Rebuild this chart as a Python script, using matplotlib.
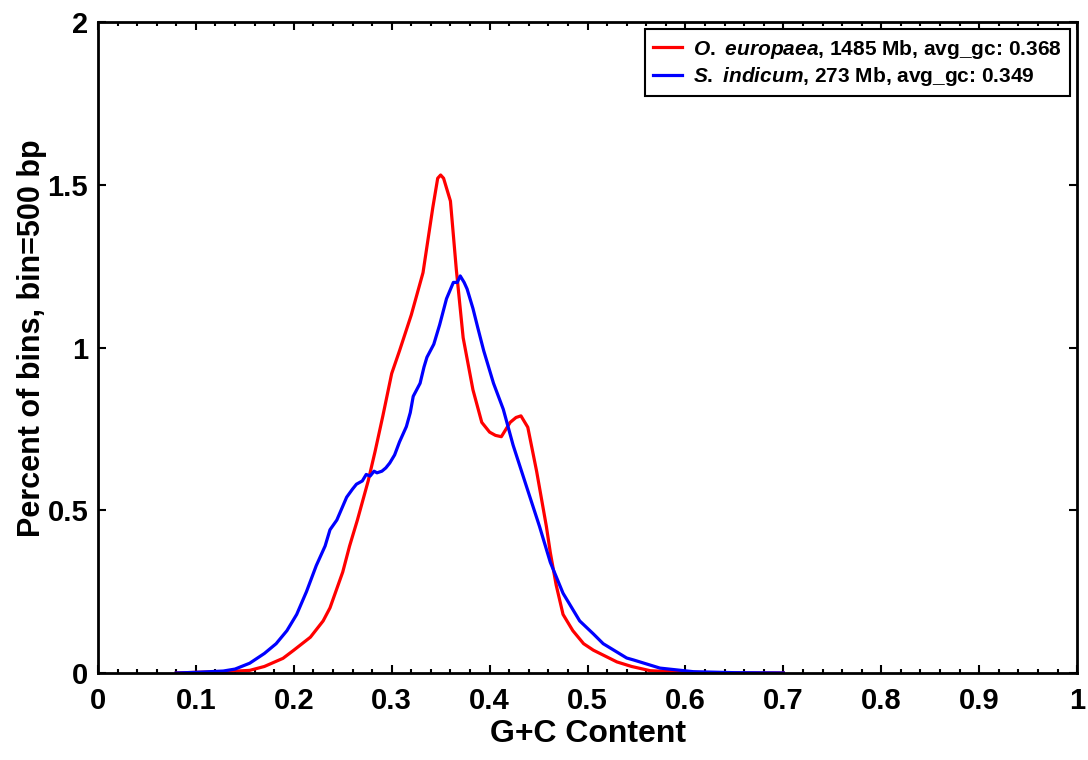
import matplotlib
matplotlib.use("Agg")
import matplotlib.pyplot as plt
from matplotlib.ticker import MultipleLocator

plt.rcParams.update({
    'font.family': ['Liberation Sans', 'DejaVu Sans'],
    'font.weight': 'bold',
    'mathtext.fontset': 'custom',
    'mathtext.it': 'Liberation Sans:italic:bold',
    'mathtext.rm': 'Liberation Sans:bold',
    'mathtext.bf': 'Liberation Sans:bold',
})

# O. europaea (red)
gc_oe = [0.08, 0.10, 0.13, 0.155, 0.17, 0.189, 0.20, 0.217, 0.23, 0.237, 0.25, 0.257,
         0.265, 0.276, 0.283, 0.291, 0.300, 0.308, 0.320, 0.332, 0.342, 0.347, 0.350,
         0.353, 0.360, 0.366, 0.373, 0.383, 0.392, 0.400, 0.406, 0.412, 0.421, 0.427,
         0.432, 0.439, 0.448, 0.458, 0.462, 0.468, 0.475, 0.485, 0.496, 0.506, 0.530,
         0.545, 0.564, 0.600, 0.650, 0.700]
pct_oe = [0.0, 0.002, 0.004, 0.008, 0.02, 0.045, 0.07, 0.11, 0.16, 0.20, 0.31, 0.39,
          0.47, 0.59, 0.68, 0.79, 0.92, 0.99, 1.10, 1.23, 1.43, 1.52, 1.53,
          1.52, 1.45, 1.24, 1.03, 0.87, 0.77, 0.74, 0.73, 0.726, 0.77, 0.785,
          0.79, 0.755, 0.62, 0.45, 0.37, 0.27, 0.18, 0.13, 0.09, 0.07, 0.034,
          0.02, 0.007, 0.002, 0.0, 0.0]

# S. indicum (blue)
gc_si = [0.08, 0.10, 0.128, 0.14, 0.155, 0.17, 0.182, 0.193, 0.203, 0.213, 0.223, 0.232,
         0.237, 0.244, 0.254, 0.260, 0.264, 0.270, 0.274, 0.278, 0.282, 0.285, 0.290,
         0.294, 0.298, 0.303, 0.308, 0.315, 0.319, 0.322, 0.329, 0.333, 0.336, 0.343,
         0.349, 0.356, 0.363, 0.367, 0.370, 0.374, 0.377, 0.383, 0.388, 0.394, 0.404,
         0.414, 0.424, 0.438, 0.451, 0.462, 0.475, 0.492, 0.506, 0.516, 0.540, 0.547,
         0.574, 0.608, 0.650, 0.700]
pct_si = [0.0, 0.002, 0.006, 0.012, 0.03, 0.06, 0.09, 0.13, 0.18, 0.25, 0.33, 0.39,
          0.44, 0.47, 0.54, 0.565, 0.58, 0.59, 0.61, 0.605, 0.62, 0.615, 0.62,
          0.63, 0.645, 0.67, 0.71, 0.757, 0.80, 0.85, 0.89, 0.94, 0.97, 1.01,
          1.07, 1.15, 1.20, 1.20, 1.22, 1.20, 1.18, 1.12, 1.06, 0.99, 0.89,
          0.81, 0.70, 0.57, 0.45, 0.34, 0.245, 0.16, 0.12, 0.09, 0.046, 0.04,
          0.015, 0.004, 0.001, 0.0]

labels = [r'$\mathit{O.\ europaea}$, 1485 Mb, avg_gc: 0.368',
          r'$\mathit{S.\ indicum}$, 273 Mb, avg_gc: 0.349']
xticks = [0, 0.1, 0.2, 0.3, 0.4, 0.5, 0.6, 0.7, 0.8, 0.9, 1]
xtick_labels = ['0', '0.1', '0.2', '0.3', '0.4', '0.5', '0.6', '0.7', '0.8', '0.9', '1']
yticks = [0, 0.5, 1, 1.5, 2]
ytick_labels = ['0', '0.5', '1', '1.5', '2']

fig = plt.figure(figsize=(10.88, 7.6), dpi=100)
ax = fig.add_axes([0.090, 0.1145, 0.900, 0.8565])

ax.plot(gc_oe, pct_oe, color='#ff0000', linewidth=2.3, label=labels[0])
ax.plot(gc_si, pct_si, color='#0000ff', linewidth=2.3, label=labels[1])

ax.set_xlim(0, 1)
ax.set_ylim(0, 2)
ax.set_xticks(xticks)
ax.set_xticklabels(xtick_labels)
ax.set_yticks(yticks)
ax.set_yticklabels(ytick_labels)
ax.xaxis.set_minor_locator(MultipleLocator(0.02))

ax.tick_params(which='both', direction='in', top=True, right=True, labelsize=21, width=1.5)
ax.tick_params(which='major', length=6)
ax.tick_params(which='minor', length=3)
ax.tick_params(axis='x', pad=10)
ax.tick_params(axis='y', pad=7)
for s in ax.spines.values():
    s.set_linewidth(2)

ax.set_xlabel('G+C Content', fontsize=23, fontweight='bold', labelpad=3)
ax.set_ylabel('Percent of bins, bin=500 bp', fontsize=22, fontweight='bold')
ax.yaxis.set_label_coords(-0.052, 0.515)

leg = ax.legend(loc='upper right', fontsize=15, handlelength=1.4, handletextpad=0.5,
                borderaxespad=0.35, fancybox=False, edgecolor='black', framealpha=1,
                labelspacing=0.2, borderpad=0.4)
leg.get_frame().set_linewidth(1.5)

fig.savefig('out.png', dpi=100)
